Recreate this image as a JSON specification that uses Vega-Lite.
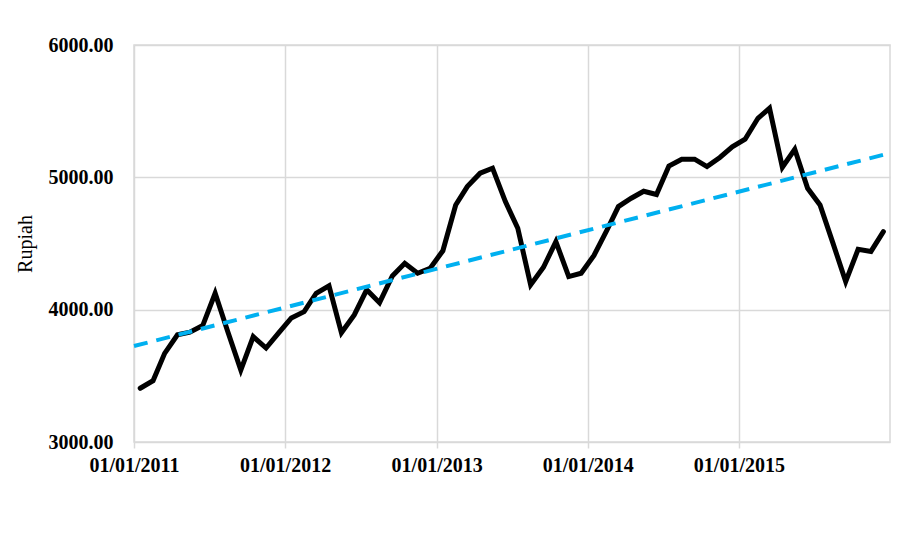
{
  "$schema": "https://vega.github.io/schema/vega-lite/v6.json",
  "autosize": "none",
  "width": 756,
  "height": 397,
  "padding": {"left": 134, "top": 45, "right": 23, "bottom": 94},
  "background": "white",
  "config": {
    "view": {"stroke": "#d9d9d9", "strokeWidth": 1.5},
    "font": "Liberation Serif"
  },
  "data": {
    "values": [
      {"date": "2011-01-16", "rupiah": 3406},
      {"date": "2011-02-16", "rupiah": 3463},
      {"date": "2011-03-16", "rupiah": 3670},
      {"date": "2011-04-16", "rupiah": 3810},
      {"date": "2011-05-16", "rupiah": 3830},
      {"date": "2011-06-16", "rupiah": 3880},
      {"date": "2011-07-16", "rupiah": 4124},
      {"date": "2011-08-16", "rupiah": 3830},
      {"date": "2011-09-16", "rupiah": 3544},
      {"date": "2011-10-16", "rupiah": 3796},
      {"date": "2011-11-16", "rupiah": 3710},
      {"date": "2011-12-16", "rupiah": 3822},
      {"date": "2012-01-16", "rupiah": 3937},
      {"date": "2012-02-16", "rupiah": 3985},
      {"date": "2012-03-16", "rupiah": 4124},
      {"date": "2012-04-16", "rupiah": 4180},
      {"date": "2012-05-16", "rupiah": 3825},
      {"date": "2012-06-16", "rupiah": 3960},
      {"date": "2012-07-16", "rupiah": 4150},
      {"date": "2012-08-16", "rupiah": 4053},
      {"date": "2012-09-16", "rupiah": 4255},
      {"date": "2012-10-16", "rupiah": 4350},
      {"date": "2012-11-16", "rupiah": 4275},
      {"date": "2012-12-16", "rupiah": 4312},
      {"date": "2013-01-16", "rupiah": 4445},
      {"date": "2013-02-16", "rupiah": 4791},
      {"date": "2013-03-16", "rupiah": 4930},
      {"date": "2013-04-16", "rupiah": 5031},
      {"date": "2013-05-16", "rupiah": 5069},
      {"date": "2013-06-16", "rupiah": 4817},
      {"date": "2013-07-16", "rupiah": 4615},
      {"date": "2013-08-16", "rupiah": 4187},
      {"date": "2013-09-16", "rupiah": 4320},
      {"date": "2013-10-16", "rupiah": 4514},
      {"date": "2013-11-16", "rupiah": 4250},
      {"date": "2013-12-16", "rupiah": 4275},
      {"date": "2014-01-16", "rupiah": 4410},
      {"date": "2014-02-16", "rupiah": 4600},
      {"date": "2014-03-16", "rupiah": 4779},
      {"date": "2014-04-16", "rupiah": 4842},
      {"date": "2014-05-16", "rupiah": 4895},
      {"date": "2014-06-16", "rupiah": 4870},
      {"date": "2014-07-16", "rupiah": 5086},
      {"date": "2014-08-16", "rupiah": 5137},
      {"date": "2014-09-16", "rupiah": 5137},
      {"date": "2014-10-16", "rupiah": 5081},
      {"date": "2014-11-16", "rupiah": 5150},
      {"date": "2014-12-16", "rupiah": 5230},
      {"date": "2015-01-16", "rupiah": 5288},
      {"date": "2015-02-16", "rupiah": 5446},
      {"date": "2015-03-16", "rupiah": 5522},
      {"date": "2015-04-16", "rupiah": 5076},
      {"date": "2015-05-16", "rupiah": 5212},
      {"date": "2015-06-16", "rupiah": 4917},
      {"date": "2015-07-16", "rupiah": 4791},
      {"date": "2015-08-16", "rupiah": 4505},
      {"date": "2015-09-16", "rupiah": 4212},
      {"date": "2015-10-16", "rupiah": 4456},
      {"date": "2015-11-16", "rupiah": 4440},
      {"date": "2015-12-16", "rupiah": 4590}
    ],
    "format": {"parse": {"date": "date"}}
  },
  "encoding": {
    "x": {
      "field": "date",
      "type": "temporal",
      "scale": {"type": "utc", "domain": [1293840000000, 1451606400000]},
      "axis": {
        "title": null,
        "values": [1293840000000, 1325376000000, 1356998400000, 1388534400000, 1420070400000],
        "labelExpr": "utcFormat(datum.value, '%m/%d/%Y')",
        "labelFont": "Liberation Serif",
        "labelFontWeight": "bold",
        "labelFontSize": 20,
        "labelColor": "black",
        "labelPadding": 7,
        "labelFlush": false,
        "labelOverlap": false,
        "domain": false,
        "tickColor": "#d9d9d9",
        "tickWidth": 1.5,
        "tickSize": 6,
        "grid": true,
        "gridColor": "#d9d9d9",
        "gridWidth": 1.5
      }
    },
    "y": {
      "field": "rupiah",
      "type": "quantitative",
      "scale": {"domain": [3000, 6000], "nice": false, "zero": false},
      "axis": {
        "title": "Rupiah",
        "titleFont": "Liberation Serif",
        "titleFontWeight": "normal",
        "titleFontSize": 20,
        "titleColor": "black",
        "titlePadding": 13,
        "values": [3000, 4000, 5000, 6000],
        "format": ".2f",
        "labelFont": "Liberation Serif",
        "labelFontWeight": "bold",
        "labelFontSize": 20,
        "labelColor": "black",
        "labelPadding": 21,
        "ticks": false,
        "domain": false,
        "grid": true,
        "gridColor": "#d9d9d9",
        "gridWidth": 1.5
      }
    }
  },
  "layer": [
    {
      "mark": {"type": "line", "color": "black", "strokeWidth": 5, "strokeJoin": "miter", "strokeCap": "round"}
    },
    {
      "transform": [
        {"regression": "rupiah", "on": "date", "extent": [1293840000000, 1451606400000]}
      ],
      "mark": {"type": "line", "color": "#00B0F0", "strokeWidth": 4, "strokeDash": [14, 9]}
    }
  ]
}
